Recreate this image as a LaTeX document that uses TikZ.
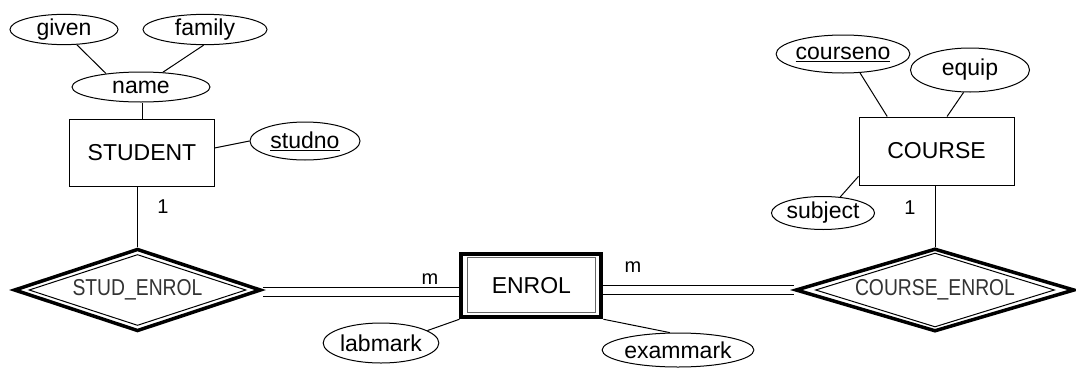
\documentclass[tikz,border=0pt]{standalone}
\usepackage{fontspec}
\setmainfont{Liberation Sans}
\usetikzlibrary{shapes.geometric,backgrounds}
\begin{document}
\begin{tikzpicture}[x=1pt,y=-1pt,
  every node/.style={font=\fontsize{23}{27}\selectfont, inner sep=0pt},
  attr/.style={ellipse, draw, line width=1pt, fill=white},
  entity/.style={rectangle, draw, line width=1pt, fill=white},
  weakout/.style={rectangle, draw, line width=4pt, fill=white},
  weakin/.style={rectangle, draw=black!60, line width=1pt},
  relout/.style={diamond, aspect=3, draw, line width=3.5pt, fill=white},
  relin/.style={diamond, aspect=3, draw, line width=1pt, text=black!80},
  link/.style={line width=1pt},
  total/.style={double, double distance=8pt, line width=1pt},
  card/.style={font=\fontsize{20}{24}\selectfont}
]
\useasboundingbox (0,0) rectangle (1076,367);

% STUDENT entity and its attributes
\node[attr, minimum width=108pt, minimum height=25pt] (given) at (64,29.5) {given};
\node[attr, minimum width=124pt, minimum height=25pt] (family) at (205,29.5) {family};
\node[attr, minimum width=138pt, minimum height=30pt] (name) at (141,87) {name};
\node[entity, minimum width=145pt, minimum height=67pt] (student) at (142,153) {STUDENT};
\node[attr, minimum width=110pt, minimum height=38pt] (studno) at (305,141) {\underline{studno}};

% COURSE entity and its attributes
\node[attr, minimum width=127pt, minimum height=38pt] (courseno) at (843,54) {\underline{courseno}};
\node[attr, minimum width=119pt, minimum height=44pt] (equip) at (970,70) {equip};
\node[entity, minimum width=155pt, minimum height=68pt] (course) at (936.5,151) {COURSE};
\node[attr, minimum width=97pt, minimum height=33pt] (subject) at (823,213) {subject};

% weak entity ENROL
\node[weakout, minimum width=140pt, minimum height=63.5pt] (enrol) at (531.4,285.5) {};
\node[weakin, minimum width=128.5pt, minimum height=55pt] (enrolin) at (531.4,285.2) {ENROL};
\node[attr, minimum width=112pt, minimum height=40pt] (labmark) at (381,343) {labmark};
\node[attr, minimum width=130pt, minimum height=34pt] (exammark) at (678,350) {exammark};

% identifying relationships
\node[relout, minimum width=247pt, minimum height=82.5pt] (studenrol) at (137.5,290) {};
\node[relin, minimum width=217pt, minimum height=71pt] (studenrolin) at (137.5,290)
  {\scalebox{0.84}[1]{STUD\_ENROL}};
\node[relout, minimum width=279pt, minimum height=83pt] (courseenrol) at (935,290) {};
\node[relin, minimum width=239pt, minimum height=70pt] (courseenrolin) at (935,290)
  {\scalebox{0.84}[1]{COURSE\_ENROL}};

% cardinalities
\node[card] (c1) at (163,207) {1};
\node[card] (c2) at (910,208) {1};
\node[card] (c3) at (430,279) {m};
\node[card] (c4) at (633,267) {m};

\begin{pgfonlayer}{background}
  \draw[link] (given.310) -- (name.159);
  \draw[link] (family.265) -- (name.34);
  \draw[link] (name.south -| student.north) -- (student.north);
  \draw[link] (student.4) -- (studno.180);
  \draw[link] (studenrol.north |- student.south) -- (studenrol.north);

  \draw[link] (courseno.312) -- (course.145);
  \draw[link] (equip.254) -- (course.73);
  \draw[link] (subject.43) -- (course.198);
  \draw[link] (courseenrol.north |- course.south) -- (courseenrol.north);

  \draw[link] (labmark.15) -- (enrol.south west);
  \draw[link] (exammark.115) -- (enrol.south east);

  \draw[total] ([yshift=-1.5pt]studenrol.east) -- ([yshift=-1.5pt]studenrol.east -| enrol.west);
  \draw[total] (enrol.east |- courseenrol.west) -- (courseenrol.west);
\end{pgfonlayer}
\end{tikzpicture}
\end{document}
